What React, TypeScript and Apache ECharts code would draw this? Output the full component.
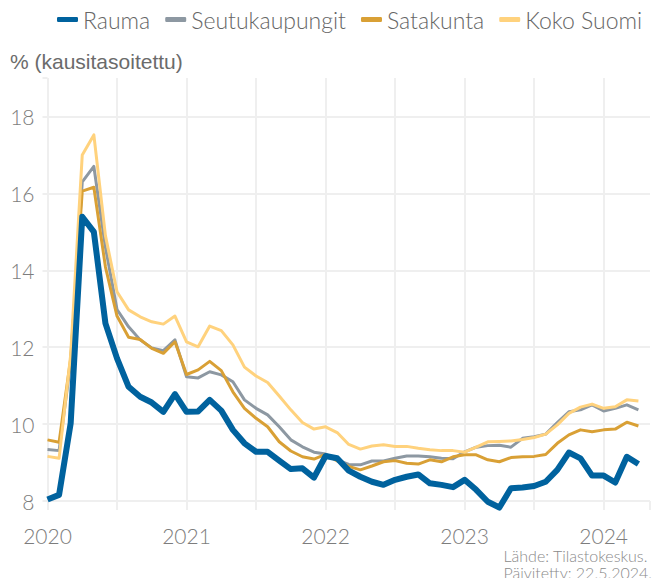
import React, { useEffect, useRef } from "react";
import * as echarts from "echarts";

// Months from Jan 2020 (index 0) to Apr 2024 (index 51)
const startYear = 2020;
const seriesNames = ["Rauma", "Seutukaupungit", "Satakunta", "Koko Suomi"];

const rauma = [
  8.04, 8.16, 10.02, 15.39, 15.0, 12.62, 11.71, 10.97, 10.71, 10.56, 10.32, 10.78,
  10.32, 10.33, 10.63, 10.35, 9.85, 9.5, 9.28, 9.28, 9.05, 8.83, 8.85, 8.61,
  9.17, 9.11, 8.79, 8.63, 8.5, 8.42, 8.55, 8.63, 8.69, 8.46, 8.42, 8.36,
  8.55, 8.29, 7.98, 7.83, 8.33, 8.35, 8.39, 8.5, 8.81, 9.26, 9.11, 8.66,
  8.66, 8.48, 9.15, 8.96,
];
const seutukaupungit = [
  9.34, 9.31, 11.6, 16.3, 16.7, 14.6, 12.98, 12.53, 12.19, 11.98, 11.91, 12.19,
  11.23, 11.2, 11.36, 11.28, 11.1, 10.63, 10.41, 10.24, 9.93, 9.59, 9.41, 9.27,
  9.22, 9.07, 8.95, 8.94, 9.04, 9.04, 9.11, 9.17, 9.17, 9.15, 9.11, 9.1,
  9.28, 9.4, 9.44, 9.45, 9.4, 9.63, 9.67, 9.74, 10.04, 10.32, 10.37, 10.5,
  10.34, 10.41, 10.5, 10.37,
];
const satakunta = [
  9.59, 9.53, 11.7, 16.06, 16.16, 14.09, 12.81, 12.26, 12.2, 11.97, 11.84, 12.14,
  11.29, 11.41, 11.63, 11.39, 10.84, 10.41, 10.15, 9.93, 9.54, 9.3, 9.15, 9.09,
  9.21, 9.04, 8.9, 8.81, 8.91, 9.02, 9.05, 8.98, 8.96, 9.07, 9.02, 9.15,
  9.2, 9.2, 9.07, 9.02, 9.13, 9.15, 9.16, 9.21, 9.5, 9.72, 9.85, 9.8,
  9.85, 9.87, 10.05, 9.95,
];
const kokoSuomi = [
  9.16, 9.11, 11.8, 17.0, 17.52, 14.9, 13.44, 12.97, 12.79, 12.66, 12.6, 12.81,
  12.14, 12.01, 12.55, 12.43, 12.06, 11.48, 11.25, 11.08, 10.73, 10.37, 10.04, 9.87,
  9.93, 9.78, 9.47, 9.35, 9.43, 9.46, 9.42, 9.42, 9.37, 9.33, 9.31, 9.31,
  9.27, 9.4, 9.54, 9.55, 9.56, 9.6, 9.65, 9.74, 9.98, 10.28, 10.44, 10.52,
  10.41, 10.45, 10.63, 10.6,
];

const yTicks = [8, 10, 12, 14, 16, 18];
const yTitle = "% (kausitasoitettu)";
const sourceLines = ["Lähde: Tilastokeskus.", "Päivitetty: 22.5.2024."];

const colors: Record<string, string> = {
  Rauma: "#00629E",
  Seutukaupungit: "#8D98A2",
  Satakunta: "#D9A035",
  "Koko Suomi": "#FFD27D",
};
const widths: Record<string, number> = {
  Rauma: 6,
  Seutukaupungit: 3,
  Satakunta: 3,
  "Koko Suomi": 3,
};

const FONT = "Lato, 'Noto Sans', sans-serif";
const TITLE_FONT = "'Liberation Sans', Arial, sans-serif";

export default function App() {
  const ref = useRef<HTMLDivElement>(null);
  useEffect(() => {
    if (!ref.current) return;
    const chart = echarts.init(ref.current, undefined, { renderer: "svg" });
    const toPairs = (arr: number[]) => arr.map((v, i) => [i, v]);
    const dataByName: Record<string, number[]> = {
      Rauma: rauma,
      Seutukaupungit: seutukaupungit,
      Satakunta: satakunta,
      "Koko Suomi": kokoSuomi,
    };
    // drawing order: bottom to top
    const drawOrder = ["Seutukaupungit", "Satakunta", "Koko Suomi", "Rauma"];
    const grid = "#efefef";
    chart.setOption({
      animation: false,
      backgroundColor: "#ffffff",
      textStyle: { fontFamily: FONT },
      grid: { left: 47.5, right: -0.5, top: 78, bottom: 77, containLabel: false },
      legend: {
        data: seriesNames,
        left: 57,
        top: 8,
        width: 620,
        padding: 0,
        icon: "roundRect",
        itemWidth: 21,
        itemHeight: 5,
        itemGap: 15,
        textStyle: { fontSize: 23, color: "#666666", fontWeight: 300, fontFamily: FONT, padding: [8, 0, 8, 0] },
      },
      xAxis: {
        type: "value",
        min: 0,
        max: 52,
        interval: 6,
        axisLine: { show: false },
        axisTick: {
          show: true,
          length: 9,
          lineStyle: { color: grid, width: 2 },
        },
        axisLabel: {
          fontSize: 21,
          color: "#7d7d7d",
          fontWeight: 300,
          margin: 24,
          fontFamily: FONT,
          formatter: (v: number) => (v % 12 === 0 ? String(startYear + v / 12) : ""),
        },
        splitLine: {
          show: true,
          lineStyle: {
            color: [grid, grid, grid, grid, grid, grid, grid, grid, grid, "transparent"],
            width: 2,
          },
        },
      },
      yAxis: {
        type: "value",
        min: yTicks[0],
        max: 19,
        interval: 2,
        axisLine: { show: false },
        axisTick: { show: true, length: 5, lineStyle: { color: grid, width: 2 } },
        axisLabel: {
          fontSize: 21,
          color: "#7d7d7d",
          fontWeight: 300,
          margin: 13,
          fontFamily: FONT,
          formatter: (v: number) => (yTicks.includes(v) ? String(v) : ""),
        },
        splitLine: {
          show: true,
          lineStyle: {
            color: [...yTicks.map(() => grid), "transparent"],
            width: 2,
          },
        },
      },
      graphic: [
        {
          type: "text",
          left: 10,
          top: 51,
          style: { text: yTitle, fontSize: 21, fill: "#6b6b6b", fontFamily: TITLE_FONT },
        },
        {
          type: "text",
          right: 1,
          top: 547,
          style: {
            text: sourceLines.join("\n"),
            fontSize: 16,
            lineHeight: 17,
            fill: "#8a8a8a",
            fontWeight: 300,
            align: "right",
            fontFamily: FONT,
          },
        },
      ],
      series: drawOrder.map((name) => ({
        name,
        type: "line",
        data: toPairs(dataByName[name]),
        showSymbol: false,
        symbol: "none",
        clip: false,
        color: colors[name],
        lineStyle: { color: colors[name], width: widths[name], join: "round", cap: "butt" },
      })),
    });
    return () => chart.dispose();
  }, []);
  return <div ref={ref} style={{ width: 653, height: 578, position: "absolute", left: 0, top: 0 }} />;
}
